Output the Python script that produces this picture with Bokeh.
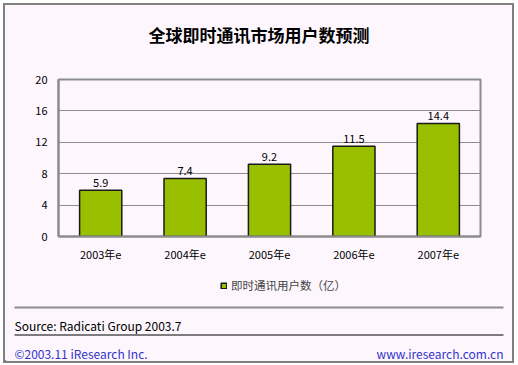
from bokeh.plotting import figure
from bokeh.layouts import column
from bokeh.core.properties import value
from bokeh.models import (ColumnDataSource, LabelSet, Label, Legend, LegendItem,
                          FixedTicker, FactorRange, Range1d)
from bokeh.embed import file_html
from bokeh.resources import INLINE

years = ["2003年e", "2004年e", "2005年e", "2006年e", "2007年e"]
users = [5.9, 7.4, 9.2, 11.5, 14.4]
value_labels = ["5.9", "7.4", "9.2", "11.5", "14.4"]
y_ticks = [0, 4, 8, 12, 16, 20]

title_text = "全球即时通讯市场用户数预测"
series_name = "即时通讯用户数（亿）"
source_text = "Source: Radicati Group  2003.7"
copyright_text = "©2003.11  iResearch Inc."
site_text = "www.iresearch.com.cn"

BG = "#FDF7FD"
GREEN = "#99C000"
GRAY = "#8C8C8C"
BLUE = "#3333CC"
FONT = "Noto Sans CJK SC"

W, H0, H1, H2 = 507, 50, 215, 91


def strip(height):
    s = figure(width=W, height=height, x_range=Range1d(0, W), y_range=Range1d(0, height),
               output_backend="svg", toolbar_location=None, title=None,
               x_axis_location=None, y_axis_location=None,
               min_border=0, background_fill_color=BG, border_fill_color=BG)
    s.frame_align = False
    s.outline_line_color = None
    s.grid.grid_line_color = None
    return s


# title strip
t = strip(H0)
t.add_layout(Label(x=143, y=H0 - 29, text=title_text, text_align="left",
                   text_baseline="middle", text_font=FONT, text_font_size="17px",
                   text_font_style="bold", text_color="#000000"))

# main chart
src = ColumnDataSource(dict(x=years, y=users, t=value_labels))

p = figure(width=W, height=H1, x_range=FactorRange(*years), y_range=Range1d(0, 20),
           output_backend="svg", toolbar_location=None, title=None,
           min_border_left=53, min_border_right=32, min_border_top=24, min_border_bottom=34,
           background_fill_color=BG, border_fill_color=BG)
p.frame_align = False

bar_style = dict(fill_color=GREEN, line_color="#1a1a1a", line_width=1.5)
bars = p.vbar(x="x", top="y", width=0.5, source=src, **bar_style)

p.add_layout(LabelSet(x="x", y="y", text="t", source=src, text_align="center",
                      text_baseline="bottom", y_offset=3, text_font_size=value("11px"),
                      text_font=value(FONT), text_color="#000000"))

p.yaxis.ticker = FixedTicker(ticks=y_ticks)
for ax in (p.xaxis[0], p.yaxis[0]):
    ax.major_tick_line_color = None
    ax.minor_tick_line_color = None
    ax.axis_line_color = GRAY
    ax.axis_line_width = 2
    ax.major_label_text_font = FONT
    ax.major_label_text_font_size = "11px"
    ax.major_label_text_color = "#000000"
p.yaxis.major_label_standoff = 5
p.xaxis.major_label_standoff = 3
p.xgrid.grid_line_color = None
p.ygrid.grid_line_color = GRAY
p.ygrid.grid_line_width = 1
p.outline_line_color = GRAY
p.outline_line_width = 2

# footer strip (legend, source, copyright)
f = strip(H2)

swatch = f.vbar(x=[-50], top=[1], width=1, **bar_style)
legend = Legend(items=[LegendItem(label=series_name, renderers=[swatch])],
                location=(215, H2 - 23), orientation="horizontal",
                glyph_width=7, glyph_height=7, label_standoff=4,
                label_text_font=FONT, label_text_font_size="11.5px",
                padding=0, margin=0, border_line_color=None,
                background_fill_alpha=0)
f.add_layout(legend, "center")

f.segment(x0=[9], y0=[H2 - 37], x1=[498], y1=[H2 - 37], line_color=GRAY, line_width=2)
f.segment(x0=[9], y0=[H2 - 64.5], x1=[498], y1=[H2 - 64.5], line_color="#000000", line_width=1)

f.add_layout(Label(x=9, y=H2 - 55, text=source_text, text_align="left",
                   text_baseline="middle", text_font=FONT, text_font_size="12px",
                   text_color="#000000"))
f.add_layout(Label(x=9, y=8, text=copyright_text, text_align="left",
                   text_baseline="alphabetic", text_font=FONT, text_font_size="12px",
                   text_color=BLUE))
f.add_layout(Label(x=498, y=8, text=site_text, text_align="right",
                   text_baseline="alphabetic", text_font=FONT, text_font_size="12px",
                   text_color=BLUE))

layout = column(t, p, f, spacing=0,
                styles={"margin-left": "3px", "margin-top": "3px",
                        "box-sizing": "content-box",
                        "border": "2px solid #808080", "background-color": BG})

open("out.html", "w").write(file_html(layout, INLINE))
